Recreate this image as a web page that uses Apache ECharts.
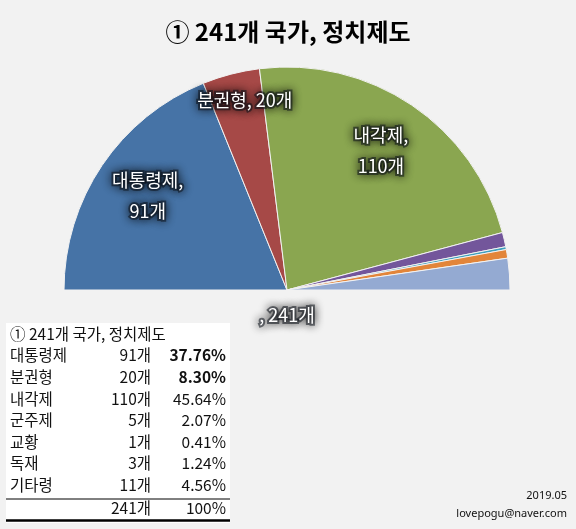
<!DOCTYPE html>
<html><head><meta charset="utf-8">
<script src="https://cdn.jsdelivr.net/npm/echarts@6/dist/echarts.min.js"></script>
<style>html,body{margin:0;padding:0;background:#F2F2F2;}#c{width:576px;height:529px;}</style>
</head><body><div id="c"></div>
<script>
const titleText = '① 241개 국가, 정치제도';
const categories = ['대통령제', '분권형', '내각제', '군주제', '교황', '독재', '기타령'];
const counts = [91, 20, 110, 5, 1, 3, 11];
const percents = ['37.76%', '8.30%', '45.64%', '2.07%', '0.41%', '1.24%', '4.56%'];
const totalCount = 241;
const totalPercent = '100%';
const labelled = ['대통령제', '분권형', '내각제'];
const footerDate = '2019.05';
const footerMail = 'lovepogu@naver.com';

const colors = ['#4673A6', '#A64947', '#8AA650', '#73569B', '#40A0BE', '#E2853A', '#94AAD2'];
const wrapNames = { '대통령제': true, '내각제': true };
const FONT = '"Noto Sans CJK KR", "Noto Sans", sans-serif';
const CX = 287, CY = 290, R = 223;

const labelStyle = {
  color: '#fff', fontSize: 18, lineHeight: 31, fontFamily: FONT,
  textBorderColor: 'rgba(15,20,30,0.55)', textBorderWidth: 4,
  textShadowColor: 'rgba(0,0,0,0.9)', textShadowBlur: 10
};

const pieData = categories.map((n, i) => ({
  name: n, value: counts[i],
  itemStyle: { color: colors[i], borderColor: '#F2F2F2', borderWidth: 1 }
}));
pieData.push({ name: '', value: totalCount, itemStyle: { color: 'rgba(0,0,0,0)', borderWidth: 0 } });

const labelData = categories.map((n, i) => {
  const show = labelled.indexOf(n) >= 0;
  const lbl = { show: show };
  if (n === '분권형') lbl.offset = [0, -27];
  return { name: n, value: counts[i], label: lbl };
});
labelData.push({ name: '', value: totalCount, label: { show: true, position: 'center', offset: [0, 25] } });

// table graphics
const g = [];
const TX = 6, TY = 323, TW = 224, TH = 200;
g.push({ type: 'rect', shape: { x: TX, y: TY, width: TW, height: TH }, style: { fill: '#ffffff' }, silent: true });
const rowY0 = 334, rowStep = 21.6;
const tfont = { fontSize: 15.5, fontFamily: FONT, fill: '#111' };
g.push({ type: 'text', x: 10, y: rowY0, style: Object.assign({ text: titleText, verticalAlign: 'middle', align: 'left' }, tfont) });
categories.forEach((n, i) => {
  const y = rowY0 + rowStep * (i + 1);
  g.push({ type: 'text', x: 10, y: y, style: Object.assign({ text: n, verticalAlign: 'middle', align: 'left' }, tfont) });
  g.push({ type: 'text', x: 151, y: y, style: Object.assign({ text: counts[i] + '개', verticalAlign: 'middle', align: 'right' }, tfont) });
  g.push({ type: 'text', x: 226, y: y, style: Object.assign({ text: percents[i], verticalAlign: 'middle', align: 'right', fontWeight: i < 2 ? 'bold' : 'normal' }, tfont) });
});
const totY = rowY0 + rowStep * (categories.length + 1) + 1;
g.push({ type: 'line', shape: { x1: TX, y1: 499, x2: TX + TW, y2: 499 }, style: { stroke: '#000', lineWidth: 1 } });
g.push({ type: 'text', x: 151, y: totY, style: Object.assign({ text: totalCount + '개', verticalAlign: 'middle', align: 'right' }, tfont) });
g.push({ type: 'text', x: 226, y: totY, style: Object.assign({ text: totalPercent, verticalAlign: 'middle', align: 'right' }, tfont) });
g.push({ type: 'line', shape: { x1: TX, y1: 520.5, x2: TX + TW, y2: 520.5 }, style: { stroke: '#000', lineWidth: 2.5 } });
// footer
g.push({ type: 'text', x: 567, y: 496, style: { text: footerDate, align: 'right', verticalAlign: 'middle', fontSize: 11, fontFamily: '"Noto Sans", sans-serif', fill: '#111' } });
g.push({ type: 'text', x: 567, y: 514, style: { text: footerMail, align: 'right', verticalAlign: 'middle', fontSize: 11, fontFamily: '"Noto Sans", sans-serif', fill: '#111' } });

const chart = echarts.init(document.getElementById('c'));
chart.setOption({
  backgroundColor: '#F2F2F2',
  animation: false,
  title: {
    text: titleText, left: 'center', top: 15,
    textStyle: { fontSize: 24, fontWeight: 'bold', color: '#000', fontFamily: FONT }
  },
  series: [
    {
      type: 'pie', center: [CX, CY], radius: [0, R], startAngle: 180, clockwise: true,
      silent: true, label: { show: false }, labelLine: { show: false }, data: pieData
    },
    {
      type: 'pie', center: [CX, CY], radius: [107, R], startAngle: 180, clockwise: true,
      silent: true, itemStyle: { color: 'rgba(0,0,0,0)', borderWidth: 0 },
      label: Object.assign({
        position: 'inside',
        formatter: p => p.name + (wrapNames[p.name] ? ',\n' : ', ') + p.value + '개'
      }, labelStyle),
      labelLine: { show: false },
      data: labelData
    }
  ],
  graphic: g
});
</script></body></html>
